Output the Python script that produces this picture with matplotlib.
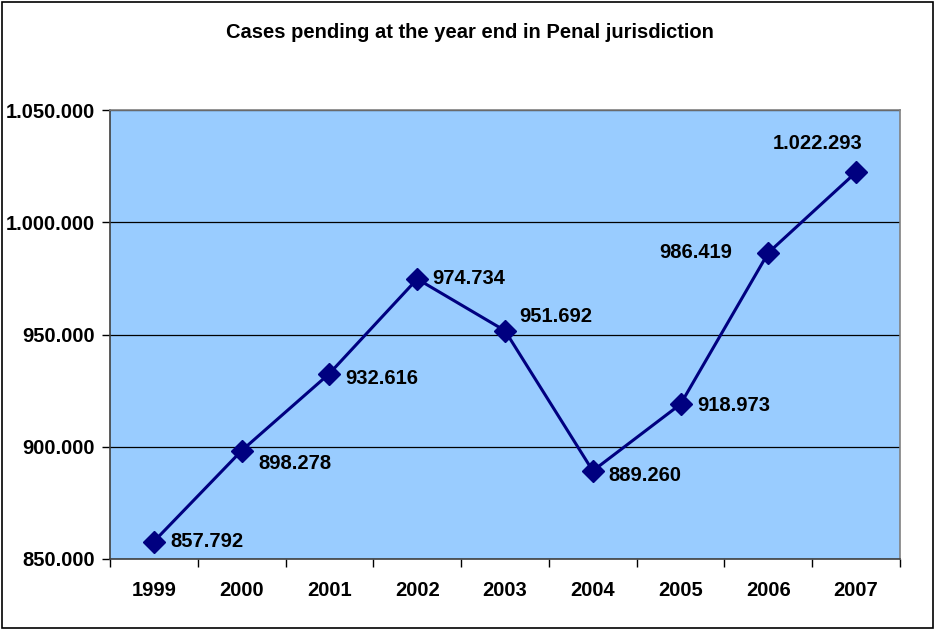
import matplotlib.pyplot as plt
import matplotlib.patches as patches

plt.rcParams['font.family'] = ['Liberation Sans', 'DejaVu Sans']

years = ['1999', '2000', '2001', '2002', '2003', '2004', '2005', '2006', '2007']
pending = [857792, 898278, 932616, 974734, 951692, 889260, 918973, 986419, 1022293]
# offsets of the value labels in pixels (dx, dy) and alignment
label_off = [(16, 0, 'left'), (17, -13, 'left'), (16, -5, 'left'), (15, 0, 'left'),
             (14, 14, 'left'), (16, -5, 'left'), (17, -1, 'left'), (-36, 0, 'right'),
             (-38, 29, 'center')]


def fmt(v):
    return f"{v:,}".replace(',', '.')


fig = plt.figure(figsize=(9.35, 6.3), dpi=100)
ax = fig.add_axes([110 / 935, 1 - 559 / 630, 790 / 935, 449 / 630])
ax.set_facecolor('#99ccff')

x = list(range(len(years)))
ax.plot(x, pending, color='#000080', linewidth=2.2, marker='D', markersize=11.5,
        markerfacecolor='#000080', markeredgecolor='#000080', zorder=3)

for xi, v, (dx, dy, ha) in zip(x, pending, label_off):
    ax.annotate(fmt(v), (xi, v), xytext=(dx * 0.72, dy * 0.72), textcoords='offset points',
                ha=ha, va='center', fontsize=14.5, fontweight='bold', zorder=4)

ax.set_xlim(-0.5, len(years) - 0.5)
ax.set_ylim(850000, 1050000)
yt = [850000, 900000, 950000, 1000000, 1050000]
ax.set_yticks(yt)
ax.set_yticklabels([fmt(v) for v in yt], fontsize=14.5, fontweight='bold')
ax.yaxis.grid(True, color='black', linewidth=0.9)
ax.set_axisbelow(True)

ax.set_xticks(x)
ax.set_xticklabels(years, fontsize=14.5, fontweight='bold')
ax.set_xticks([i - 0.5 for i in range(len(years) + 1)], minor=True)
ax.tick_params(axis='x', which='major', length=0, pad=16)
ax.tick_params(axis='x', which='minor', length=6, width=1, color='black', direction='out')
ax.tick_params(axis='y', length=6, width=1, direction='out', pad=5)

for s in ['top', 'right']:
    ax.spines[s].set_color('#808080')
for s in ['left', 'bottom']:
    ax.spines[s].set_color('#404040')
for s in ax.spines.values():
    s.set_linewidth(1.2)

fig.text(470 / 935, 1 - 32 / 630, 'Cases pending at the year end in Penal jurisdiction',
         ha='center', va='center', fontsize=14.5, fontweight='bold')

border = patches.Rectangle((2 / 935, 2 / 630), 931 / 935, 626 / 630, transform=fig.transFigure,
                           fill=False, edgecolor='black', linewidth=1.2)
fig.patches.append(border)

fig.savefig('out.png', dpi=100)
